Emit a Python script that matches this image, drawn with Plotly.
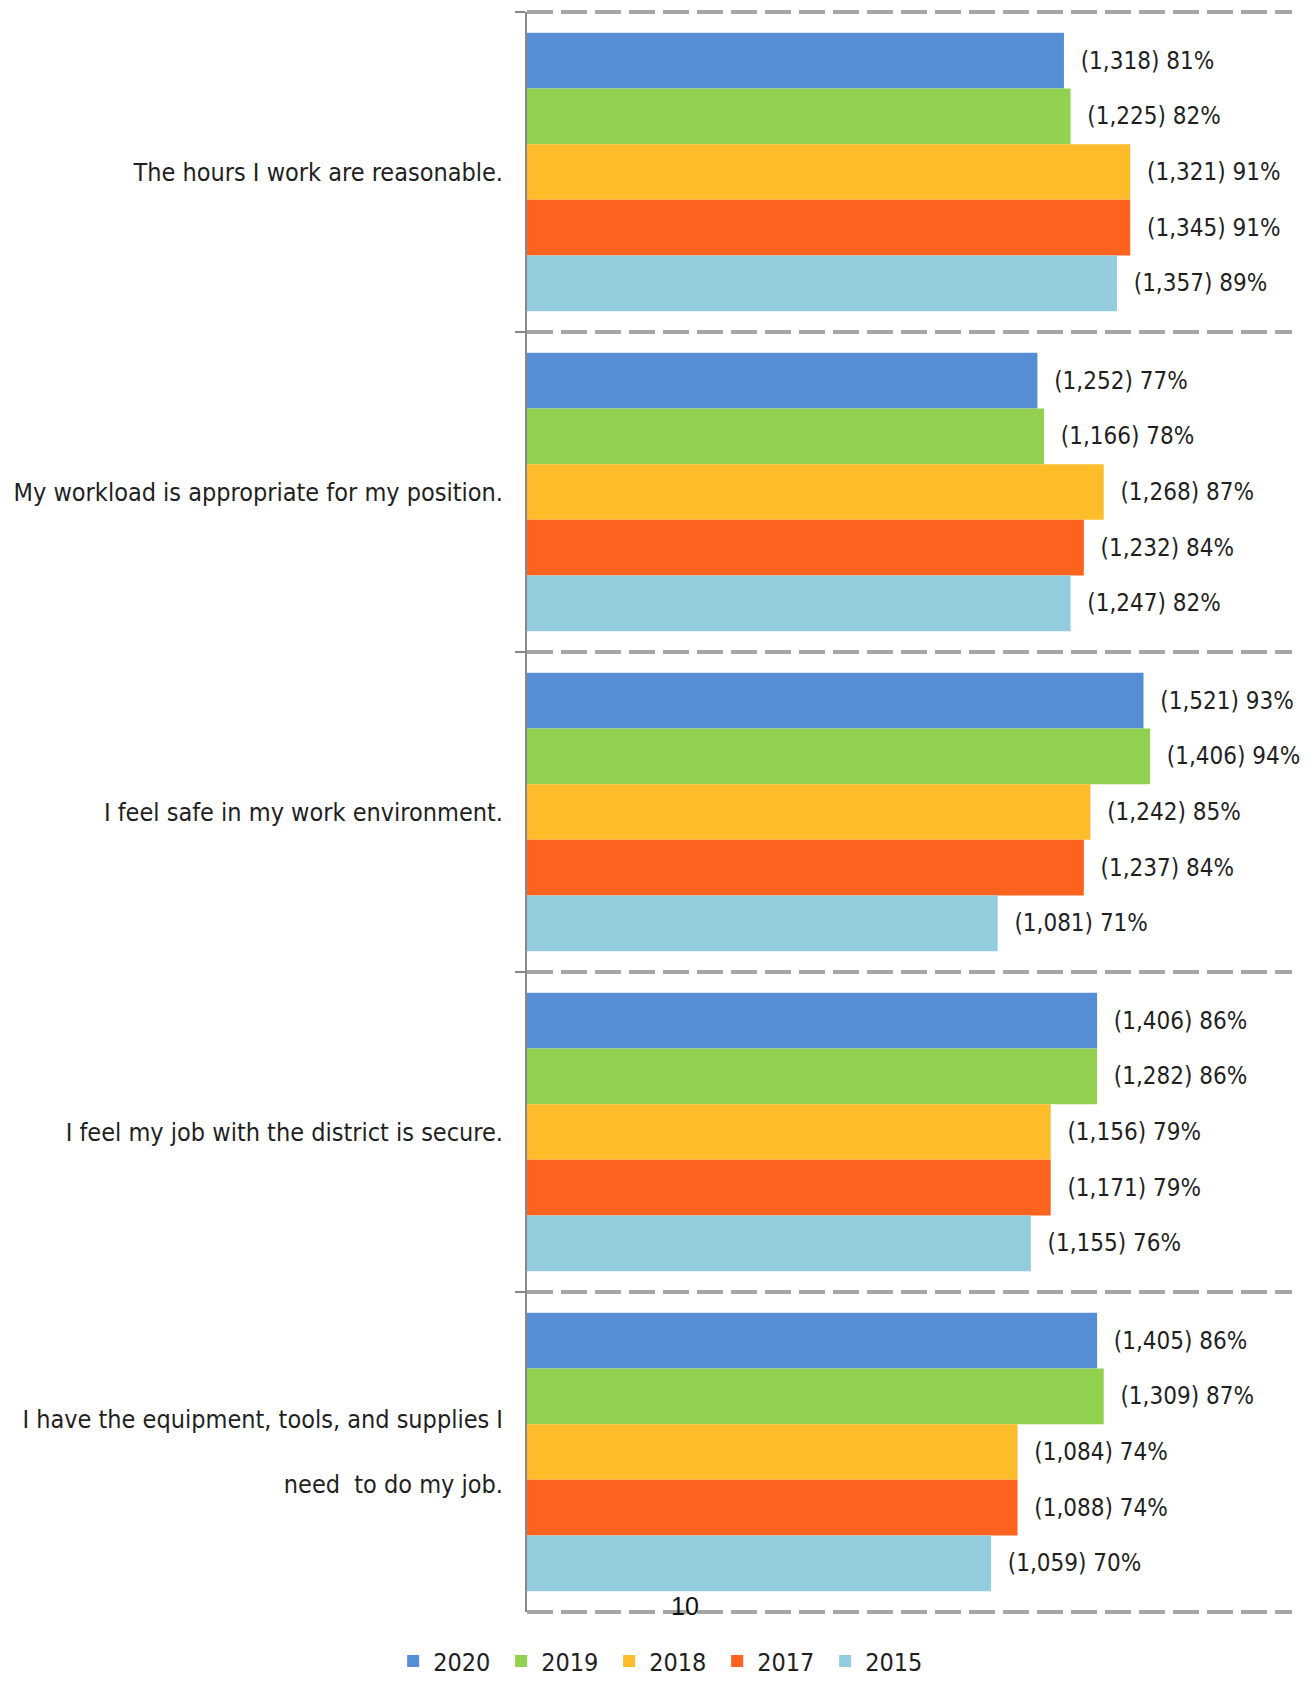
import plotly.graph_objects as go

categories = [
    "The hours I work are reasonable.",
    "My workload is appropriate for my position.",
    "I feel safe in my work environment.",
    "I feel my job with the district is secure.",
    "I have the equipment, tools, and supplies I<br><br>need  to do my job.",
]
years = ["2020", "2019", "2018", "2017", "2015"]
colors = ["#558ED5", "#92D050", "#FDBC2A", "#FD621E", "#93CDDD"]

pct_2020 = [81, 77, 93, 86, 86]
pct_2019 = [82, 78, 94, 86, 87]
pct_2018 = [91, 87, 85, 79, 74]
pct_2017 = [91, 84, 84, 79, 74]
pct_2015 = [89, 82, 71, 76, 70]

n_2020 = [1318, 1252, 1521, 1406, 1405]
n_2019 = [1225, 1166, 1406, 1282, 1309]
n_2018 = [1321, 1268, 1242, 1156, 1084]
n_2017 = [1345, 1232, 1237, 1171, 1088]
n_2015 = [1357, 1247, 1081, 1155, 1059]

pcts = [pct_2020, pct_2019, pct_2018, pct_2017, pct_2015]
counts = [n_2020, n_2019, n_2018, n_2017, n_2015]

FONT = "DejaVu Sans Condensed, Liberation Sans Narrow, sans-serif"
TXT = "#1f1f1f"

def f(size):
    return dict(family=FONT, size=size, color=TXT)

fig = go.Figure()
for yr, col, p, n in zip(years, colors, pcts, counts):
    fig.add_trace(go.Bar(
        name=yr,
        y=categories,
        x=p,
        orientation="h",
        marker=dict(color=col, line=dict(width=0)),
        text=[f"\u00a0\u00a0({c:,}) {v}%" for c, v in zip(n, p)],
        textposition="outside",
        constraintext="none",
        cliponaxis=False,
        textfont=f(24),
    ))

GRID = "#A6A6A6"
DASH = "26px,8px"

# the page body has an 8px margin, so the figure is sized and offset for it
fig.update_layout(
    width=1300,
    height=1675,
    barmode="group",
    bargap=0.13,
    bargroupgap=0,
    plot_bgcolor="white",
    paper_bgcolor="white",
    margin=dict(l=519, r=16, t=4, b=71),
    font=f(25),
    xaxis=dict(range=[0, 115.4], showgrid=False, showticklabels=False,
               zeroline=False, showline=False, ticks="", automargin=False),
    yaxis=dict(
        autorange="reversed",
        automargin=False,
        tickson="boundaries",
        ticks="outside",
        ticklen=10,
        tickcolor="#888888",
        tickwidth=2,
        showline=True,
        linecolor="#888888",
        linewidth=2,
        showgrid=True,
        gridcolor=GRID,
        gridwidth=4,
        griddash=DASH,
        ticklabelstandoff=17,
        tickfont=f(25),
    ),
    legend=dict(
        orientation="h",
        x=0.178, xanchor="center",
        yref="container",
        y=0.013, yanchor="middle",
        font=f(25),
        traceorder="normal",
        entrywidth=63,
        entrywidthmode="pixels",
    ),
    showlegend=True,
)

# dashed frame lines at the outer category boundaries
for yy in (0, 1):
    fig.add_shape(type="line", xref="paper", yref="paper", x0=0, x1=1, y0=yy, y1=yy,
                  line=dict(color=GRID, width=4, dash=DASH), layer="below")

fig.add_annotation(
    text="10", xref="paper", yref="paper", x=0.2065, y=0.004,
    showarrow=False, font=dict(family="Liberation Sans, Arial, sans-serif", size=25, color="#111111"),
    xanchor="center", yanchor="middle",
)

fig.write_html("out.html")
